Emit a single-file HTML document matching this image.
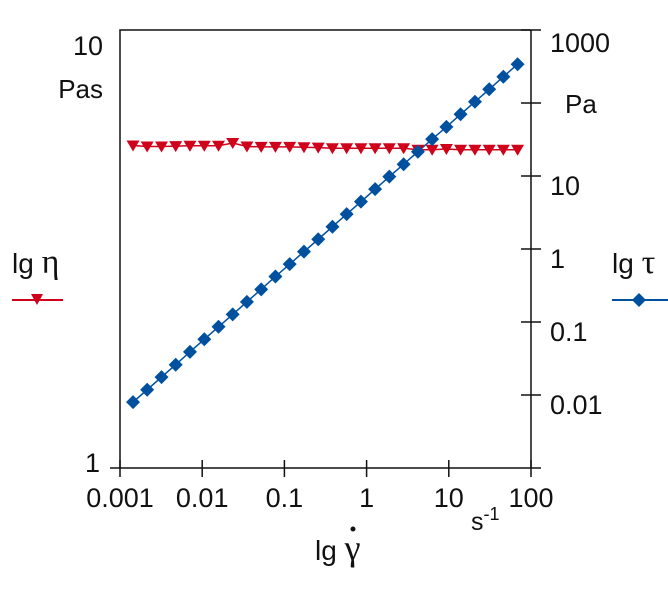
<!DOCTYPE html>
<html><head><meta charset="utf-8"><style>
html,body{margin:0;padding:0;background:#fff}
svg text{font-family:"Liberation Sans",sans-serif;fill:#111}
</style></head><body>
<svg width="668" height="600" viewBox="0 0 668 600">
<g id="axes"></g>
<g id="marks"></g>
<text x="103" y="55" font-size="27" text-anchor="end">10</text>
<text x="103" y="98" font-size="26" text-anchor="end">Pas</text>
<text x="100" y="472" font-size="27" text-anchor="end">1</text>
<text x="565" y="113" font-size="26">Pa</text>
<text x="471" y="530" font-size="25">s<tspan dy="-10" font-size="18">-1</tspan></text>
<text x="12" y="273" font-size="28">lg <tspan font-family="Liberation Serif,serif" font-size="34">η</tspan></text>
<g>
<line x1="12" y1="300" x2="63" y2="300" stroke="#d0021b" stroke-width="2"/>
<path d="M31,294 L43,294 L37,305 Z" fill="#d0021b"/>
</g>
<text x="612" y="273" font-size="28">lg <tspan font-family="Liberation Serif,serif" font-size="34">τ</tspan></text>
<g>
<line x1="612" y1="300" x2="668" y2="300" stroke="#0050a0" stroke-width="2"/>
<path d="M639,293 L646,300 L639,307 L632,300 Z" fill="#0050a0"/>
</g>
<text x="315" y="560" font-size="28">lg <tspan font-family="Liberation Serif,serif" font-size="36">γ</tspan></text>
<circle cx="353" cy="529" r="2.5" fill="#111"/>
</svg>
<script>
const shearRate=[0.00144,0.00214,0.0032,0.00476,0.0071,0.0106,0.0158,0.0235,0.035,0.0522,0.0778,0.116,0.173,0.258,0.384,0.572,0.853,1.27,1.89,2.82,4.21,6.27,9.35,13.9,20.8,31.0,46.1,68.7];
const viscosity=[5.45,5.42,5.42,5.43,5.44,5.44,5.44,5.52,5.42,5.41,5.41,5.41,5.40,5.39,5.37,5.37,5.37,5.37,5.37,5.37,5.33,5.33,5.35,5.33,5.33,5.33,5.33,5.33];
const stress=[0.0080,0.0118,0.0176,0.026,0.039,0.058,0.086,0.127,0.189,0.28,0.42,0.62,0.92,1.36,2.02,3.0,4.45,6.6,9.8,14.5,21.5,32,47,70,104,154,229,340];
const xTicks=[0.001,0.01,0.1,1,10,100];
const xTickLabels=["0.001","0.01","0.1","1","10","100"];
const rTicks=[1000,100,10,1,0.1,0.01];
const rTickLabels=["1000","","10","1","0.1","0.01"];
const L=120,R=531,T=30,B=468;
const xs=v=>L+(Math.log10(v)+3)/5*(R-L);
const yl=v=>B-Math.log10(v)*(B-T);
const yr=v=>B-(Math.log10(v)+3)/6*(B-T);
const NS="http://www.w3.org/2000/svg";
function mk(tag,attrs,parent){const e=document.createElementNS(NS,tag);for(const k in attrs)e.setAttribute(k,attrs[k]);parent.appendChild(e);return e;}
const ax=document.getElementById('axes'),mg=document.getElementById('marks');
let e=mk('path',{d:`M${R},${T} L${L},${T} L${L},${B}`,fill:'none',stroke:'#111','stroke-width':1.5},ax);

e=mk('line',{x1:110,y1:B,x2:541,y2:B,stroke:'#111','stroke-width':1.5},ax);

e=mk('line',{x1:R,y1:T,x2:R,y2:B,stroke:'#111','stroke-width':1.5},ax);

xTicks.forEach((v,i)=>{const x=xs(v);
 let t=mk('line',{x1:x,y1:B-8,x2:x,y2:B+9,stroke:'#111','stroke-width':1.5},ax);
 
 let tx=mk('text',{x:x,y:507,'font-size':27,'text-anchor':'middle'},ax);tx.textContent=xTickLabels[i];
 });
rTicks.forEach((v,i)=>{const y=yr(v);
 let t=mk('line',{x1:R-10,y1:y,x2:R+10,y2:y,stroke:'#111','stroke-width':1.5},ax);
 
 if(rTickLabels[i]){let tx=mk('text',{x:R+19,y:y+(i==0?22:19),'font-size':27},ax);tx.textContent=rTickLabels[i];
 }});
let pe=shearRate.map((g,i)=>`${xs(g)},${yl(viscosity[i])}`).join(' ');
e=mk('polyline',{points:pe,fill:'none',stroke:'#d0021b','stroke-width':1.5},mg);

let pt=shearRate.map((g,i)=>`${xs(g)},${yr(stress[i])}`).join(' ');
e=mk('polyline',{points:pt,fill:'none',stroke:'#0050a0','stroke-width':1.5},mg);

shearRate.forEach((g,i)=>{const x=xs(g),y=yl(viscosity[i]);
 let m=mk('path',{d:`M${x-6.5},${y-5} L${x+6.5},${y-5} L${x},${y+6} Z`,fill:'#d0021b'},mg);
 });
shearRate.forEach((g,i)=>{const x=xs(g),y=yr(stress[i]);
 let m=mk('path',{d:`M${x},${y-7} L${x+7},${y} L${x},${y+7} L${x-7},${y} Z`,fill:'#0050a0'},mg);
 });
</script>
</body></html>
